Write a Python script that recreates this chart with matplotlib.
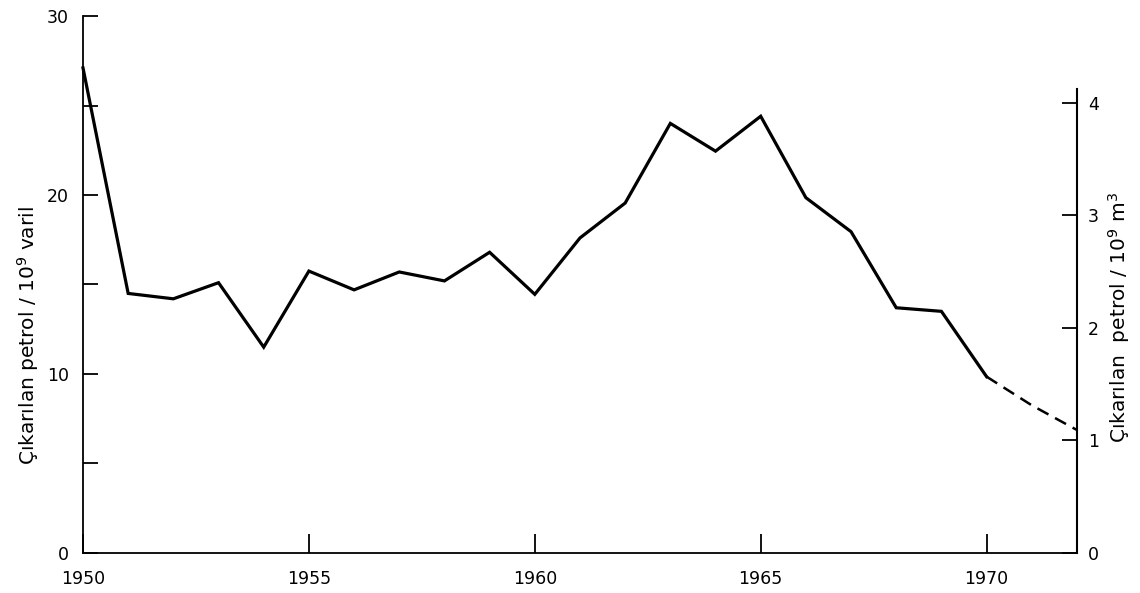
import matplotlib
matplotlib.use('Agg')
from matplotlib import pyplot as plt
from matplotlib.ticker import MultipleLocator

# Petrol production (10^9 barrels)
years = list(range(1950, 1971))
production = [27.1, 14.5, 14.2, 15.1, 11.5, 15.75, 14.7, 15.7, 15.2, 16.8, 14.45,
              17.6, 19.55, 24.0, 22.45, 24.4, 19.85, 17.95, 13.7, 13.5, 9.85]

# dashed projection after 1970
proj_years = [1970, 1971, 1972]
proj_values = [9.85, 8.25, 6.87]

year_ticks = [1950, 1955, 1960, 1965, 1970]
barrel_ticks = [0, 10, 20, 30]
m3_ticks = [0, 1, 2, 3, 4]
BARREL_PER_M3 = 6.29

plt.rcParams['font.family'] = 'DejaVu Sans'

fig = plt.figure(figsize=(11.4, 5.93), dpi=100)
ax = fig.add_axes([0.0728, 0.0675, 0.8719, 0.9055])

ax.plot(years, production, color='black', linewidth=2.3, solid_joinstyle='miter', clip_on=False)
ax.plot(proj_years, proj_values, color='black', linewidth=1.8, linestyle=(0, (5, 3)), clip_on=False)

ax.set_xlim(1950, 1972)
ax.set_ylim(0, 30)
ax.set_xticks(year_ticks)
ax.set_yticks(barrel_ticks)
ax.yaxis.set_minor_locator(MultipleLocator(5))

for side in ['top', 'right']:
    ax.spines[side].set_visible(False)
for side in ['left', 'bottom']:
    ax.spines[side].set_linewidth(1.3)

ax.tick_params(axis='both', which='both', direction='in', width=1.3, labelsize=12.5)
ax.tick_params(axis='y', which='major', length=11, pad=10)
ax.tick_params(axis='y', which='minor', length=11)
ax.tick_params(axis='x', length=14, pad=12)

ax.set_ylabel('Çıkarılan petrol / 10$^9$ varil', fontsize=14.5)
ax.yaxis.set_label_coords(-0.042, 0.405)

# right-hand axis in 10^9 m3
ax2 = ax.twinx()
ax2.set_ylim(0, 30 / BARREL_PER_M3)
ax2.set_yticks(m3_ticks)
for side in ['top', 'left', 'bottom']:
    ax2.spines[side].set_visible(False)
ax2.spines['right'].set_bounds(0, 4.12)
ax2.spines['right'].set_linewidth(1.5)
ax2.tick_params(axis='y', direction='in', length=11, width=1.3, pad=8, labelsize=12.5)
ax2.set_ylabel('Çıkarılan  petrol / 10$^9$ m$^3$', fontsize=14.5)
ax2.yaxis.set_label_coords(1.029, 0.438)

fig.savefig('out.png', dpi=100)
